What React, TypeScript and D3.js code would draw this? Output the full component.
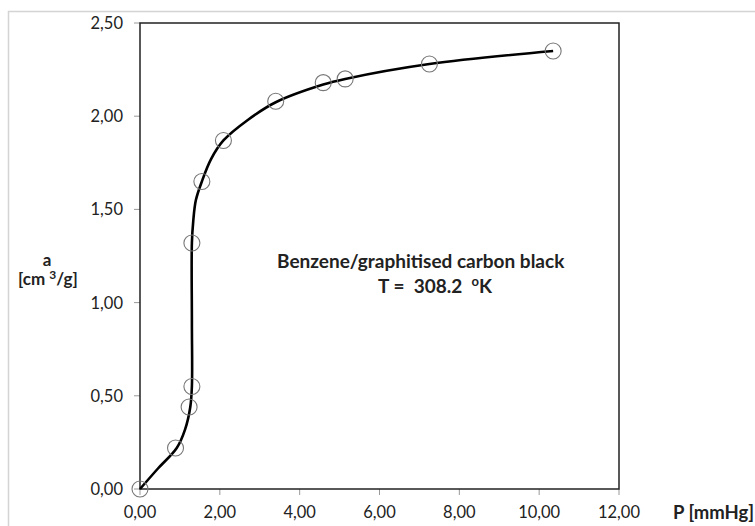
import React from "react";
import * as d3 from "d3";

const pressure = [0, 0.89, 1.23, 1.3, 1.3, 1.55, 2.09, 3.4, 4.59, 5.14, 7.25, 10.35];
const adsorbed = [0, 0.22, 0.44, 0.55, 1.32, 1.65, 1.87, 2.08, 2.18, 2.2, 2.28, 2.35];

const fitP = [0, 0.45, 0.92, 1.13, 1.26, 1.3, 1.3, 1.3, 1.335, 1.4, 1.55, 1.78, 2.09, 2.7, 3.4, 4.59, 5.14, 7.25, 10.35];
const fitA = [0, 0.11, 0.22, 0.32, 0.44, 0.55, 0.9, 1.32, 1.44, 1.55, 1.65, 1.77, 1.87, 1.98, 2.075, 2.17, 2.2, 2.28, 2.35];

const xTicks = [0, 2, 4, 6, 8, 10, 12];
const yTicks = [0, 0.5, 1, 1.5, 2, 2.5];

const fmt = (v: number) => v.toFixed(2).replace(".", ",");

export default function App() {
  const W = 755, H = 526;
  const left = 140, right = 619, top = 23, bottom = 489;
  const x = d3.scaleLinear().domain([0, 12]).range([left, right]);
  const y = d3.scaleLinear().domain([0, 2.5]).range([bottom, top]);
  const line = d3
    .line<number>()
    .x((_, i) => x(fitP[i]))
    .y((d) => y(d))
    .curve(d3.curveCatmullRom.alpha(0.5));
  const font = "Lato, 'Open Sans', sans-serif";
  return (
    <svg width={W} height={H} style={{ position: "absolute", left: 0, top: 0, background: "#fff" }} fontFamily={font}>
      <rect x={8.5} y={11.5} width={800} height={600} fill="none" stroke="#d4d4d4" strokeWidth={1.5} />
      {xTicks.map((t) => (
        <g key={"x" + t}>
          <line x1={x(t)} x2={x(t)} y1={bottom} y2={bottom + 6} stroke="#999" strokeWidth={1} />
          <text x={x(t)} y={518} textAnchor="middle" fontSize={16.5} fill="#222">{fmt(t)}</text>
        </g>
      ))}
      {yTicks.map((t) => (
        <g key={"y" + t}>
          <line x1={left - 6} x2={left} y1={y(t)} y2={y(t)} stroke="#999" strokeWidth={1} />
          <text x={123} y={y(t) + 6} textAnchor="end" fontSize={16.5} fill="#222">{fmt(t)}</text>
        </g>
      ))}
      <rect x={left} y={top} width={right - left} height={bottom - top} fill="none" stroke="#222" strokeWidth={1.5} />
      <path d={line(fitA) || ""} fill="none" stroke="#000" strokeWidth={2.6} />
      {pressure.map((p, i) => (
        <circle key={"c" + i} cx={x(p)} cy={y(adsorbed[i])} r={8} fill="none" stroke="#777" strokeWidth={1.1} />
      ))}
      <text x={47} y={266} textAnchor="middle" fontSize={17} fontWeight="bold" fill="#222">a</text>
      <text x={18} y={285} fontSize={17} fontWeight="bold" fill="#222">
        {"[cm "}<tspan fontSize={12} dy={-6}>3</tspan><tspan dy={6}>/g]</tspan>
      </text>
      <text x={277} y={268} fontSize={19} fontWeight="bold" fill="#222">Benzene/graphitised carbon black</text>
      <text x={378} y={293} fontSize={19} fontWeight="bold" fill="#222">
        {"T =\u00a0 308.2 \u00a0"}<tspan fontSize={13} dy={-7}>o</tspan><tspan dy={7}>K</tspan>
      </text>
      <text x={673} y={519} fontSize={18.5} fontWeight="bold" fill="#222">P [mmHg]</text>
    </svg>
  );
}
